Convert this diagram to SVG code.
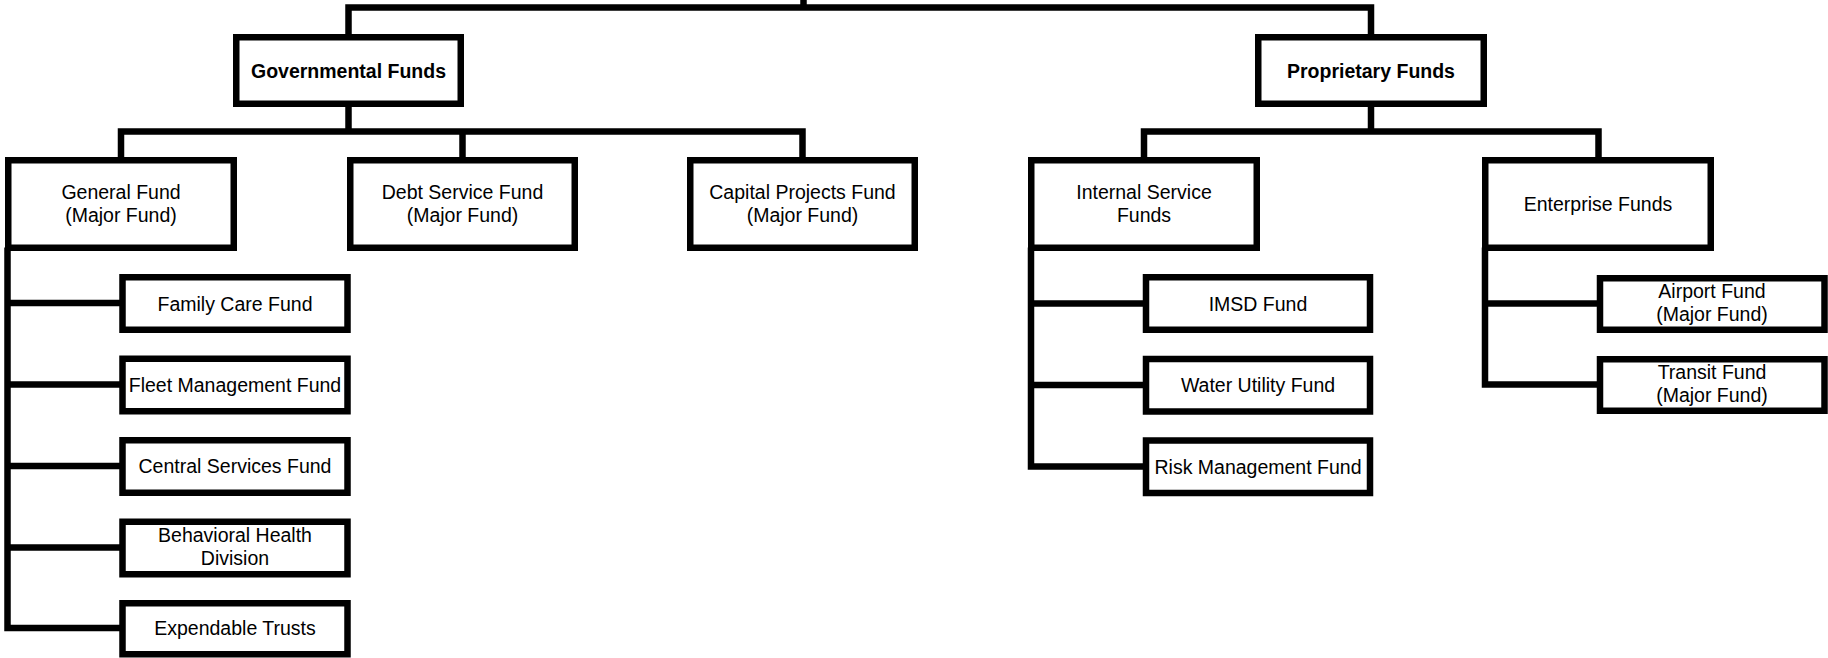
<svg xmlns="http://www.w3.org/2000/svg" width="1828" height="658" viewBox="0 0 1828 658">
<style>
.box{fill:#fff;stroke:#000;stroke-width:6.5}
.con{fill:none;stroke:#000;stroke-width:6.5;stroke-linejoin:miter}
text{font-family:"Liberation Sans",Arial,sans-serif;font-size:19.5px;fill:#000;text-anchor:middle}
.b{font-weight:bold}
</style>
<rect width="1828" height="658" fill="#fff"/>
<g id="connectors">
<path class="con" d="M803.5 0 V7.5"/>
<path class="con" d="M348.5 37 V7.5 H1371 V37"/>
<path class="con" d="M121 160 V131.5 H802.5 V160"/>
<path class="con" d="M348.5 104 V131.5"/>
<path class="con" d="M462.5 131.5 V160"/>
<path class="con" d="M1144 160 V131.5 H1598.5 V160"/>
<path class="con" d="M1371 104 V131.5"/>
<path class="con" d="M7.5 247.5 V628 H122.5"/>
<path class="con" d="M7.5 303 H122.5 M7.5 384.5 H122.5 M7.5 466 H122.5 M7.5 547.5 H122.5"/>
<path class="con" d="M1031 247.5 V466.5 H1146"/>
<path class="con" d="M1031 303.5 H1146 M1031 385 H1146"/>
<path class="con" d="M1485 247.5 V384.5 H1600"/>
<path class="con" d="M1485 303.5 H1600"/>
</g>
<g id="gov">
<rect class="box" x="236.25" y="37.25" width="224.5" height="66.5"/>
<text class="b" x="348.5" y="77.5">Governmental Funds</text>
</g>
<g id="prop">
<rect class="box" x="1258.25" y="37.25" width="225.5" height="66.5"/>
<text class="b" x="1371" y="77.5">Proprietary Funds</text>
</g>
<g id="general">
<rect class="box" x="8.25" y="160.25" width="225.5" height="87.5"/>
<text x="121" y="198.5">General Fund</text>
<text x="121" y="221.5">(Major Fund)</text>
</g>
<g id="debt">
<rect class="box" x="350.25" y="160.25" width="224.5" height="87.5"/>
<text x="462.5" y="198.5">Debt Service Fund</text>
<text x="462.5" y="221.5">(Major Fund)</text>
</g>
<g id="capital">
<rect class="box" x="690.25" y="160.25" width="224.5" height="87.5"/>
<text x="802.5" y="198.5">Capital Projects Fund</text>
<text x="802.5" y="221.5">(Major Fund)</text>
</g>
<g id="internal">
<rect class="box" x="1031.25" y="160.25" width="225.5" height="87.5"/>
<text x="1144" y="198.5">Internal Service</text>
<text x="1144" y="221.5">Funds</text>
</g>
<g id="enterprise">
<rect class="box" x="1485.25" y="160.25" width="225.5" height="87.5"/>
<text x="1598" y="211">Enterprise Funds</text>
</g>
<g id="family">
<rect class="box" x="122.5" y="277.25" width="225" height="52.5"/>
<text x="235" y="310.6">Family Care Fund</text>
</g>
<g id="fleet">
<rect class="box" x="122.5" y="358.75" width="225" height="52.5"/>
<text x="235" y="392">Fleet Management Fund</text>
</g>
<g id="central">
<rect class="box" x="122.5" y="440.25" width="225" height="52.5"/>
<text x="235" y="473.3">Central Services Fund</text>
</g>
<g id="behavioral">
<rect class="box" x="122.5" y="521.75" width="225" height="52.5"/>
<text x="235" y="542">Behavioral Health</text>
<text x="235" y="565">Division</text>
</g>
<g id="expendable">
<rect class="box" x="122.5" y="603.25" width="225" height="51"/>
<text x="235" y="635.3">Expendable Trusts</text>
</g>
<g id="imsd">
<rect class="box" x="1146" y="277.25" width="224" height="52.5"/>
<text x="1258" y="310.6">IMSD Fund</text>
</g>
<g id="water">
<rect class="box" x="1146" y="359" width="224" height="52.5"/>
<text x="1258" y="392.3">Water Utility Fund</text>
</g>
<g id="risk">
<rect class="box" x="1146" y="440.5" width="224" height="52.5"/>
<text x="1258" y="474">Risk Management Fund</text>
</g>
<g id="airport">
<rect class="box" x="1600" y="278.25" width="224.5" height="51.5"/>
<text x="1712" y="298">Airport Fund</text>
<text x="1712" y="321">(Major Fund)</text>
</g>
<g id="transit">
<rect class="box" x="1600" y="359.25" width="224.5" height="51.5"/>
<text x="1712" y="379">Transit Fund</text>
<text x="1712" y="402">(Major Fund)</text>
</g>
</svg>
